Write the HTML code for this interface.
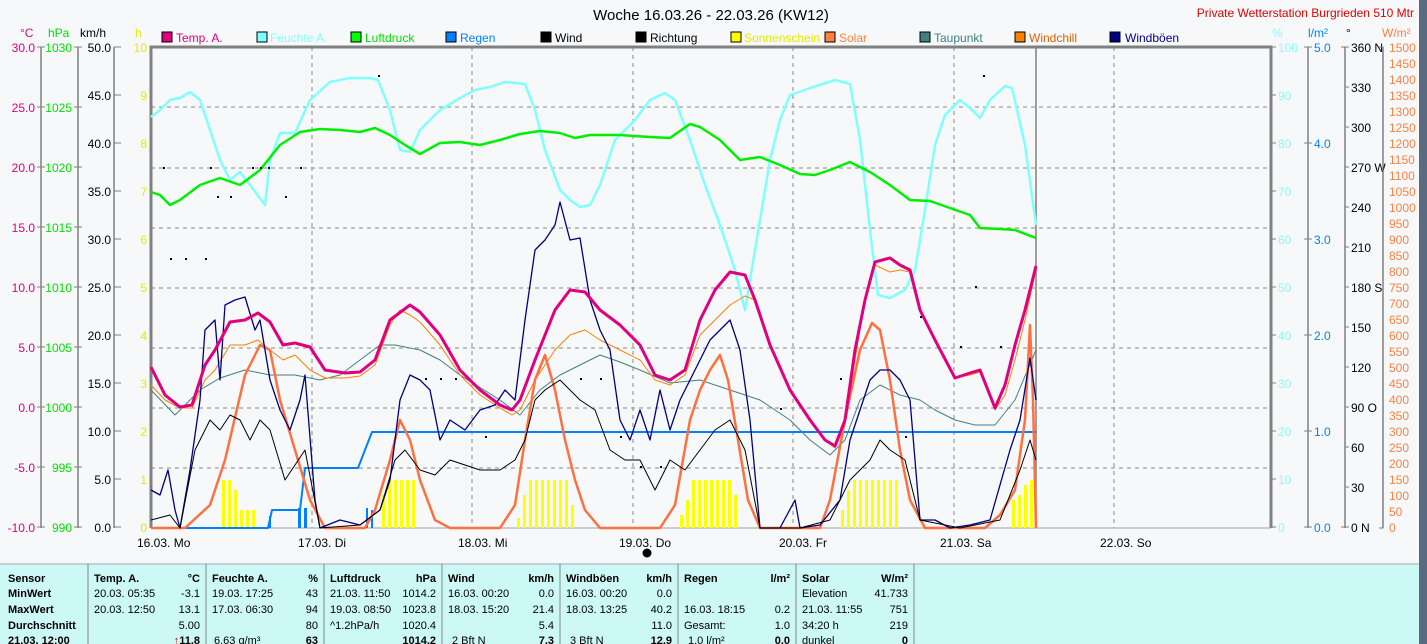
<!DOCTYPE html>
<html><head><meta charset="utf-8"><style>
html,body{margin:0;padding:0;background:#f7f8fa;}
svg{display:block;font-family:"Liberation Sans",sans-serif;}
</style></head><body>
<svg width="1427" height="644" viewBox="0 0 1427 644" xmlns="http://www.w3.org/2000/svg">
<rect width="1427" height="644" fill="#f7f8fa"/>
<rect x="1419" y="0" width="8" height="644" fill="#5a6a80"/>
<text x="711" y="20" font-size="15" text-anchor="middle" fill="#000">Woche 16.03.26 - 22.03.26 (KW12)</text>
<text x="1414" y="17" font-size="12" text-anchor="end" fill="#e00000">Private Wetterstation Burgrieden 510 Mtr</text>

<!-- legend -->
<g font-size="12">
<rect x="162" y="32" width="10" height="10" fill="#e0007f" stroke="#000"/><text x="176" y="42" fill="#e0007f">Temp. A.</text>
<rect x="257" y="32" width="10" height="10" fill="#80ffff" stroke="#000"/><text x="270" y="42" fill="#80ffff">Feuchte A.</text>
<rect x="351" y="32" width="10" height="10" fill="#00ff00" stroke="#000"/><text x="365" y="42" fill="#00e000">Luftdruck</text>
<rect x="446" y="32" width="10" height="10" fill="#0080ff" stroke="#000"/><text x="460" y="42" fill="#0080ff">Regen</text>
<rect x="541" y="32" width="10" height="10" fill="#000" stroke="#000"/><text x="555" y="42" fill="#000">Wind</text>
<rect x="636" y="32" width="10" height="10" fill="#000" stroke="#000"/><text x="650" y="42" fill="#000">Richtung</text>
<rect x="731" y="32" width="10" height="10" fill="#ffff00" stroke="#000"/><text x="744" y="42" fill="#e8e800">Sonnenschein</text>
<rect x="825" y="32" width="10" height="10" fill="#ff8040" stroke="#000"/><text x="839" y="42" fill="#ff8040">Solar</text>
<rect x="920" y="32" width="10" height="10" fill="#408080" stroke="#000"/><text x="934" y="42" fill="#408080">Taupunkt</text>
<rect x="1015" y="32" width="10" height="10" fill="#ff8000" stroke="#000"/><text x="1029" y="42" fill="#e06000">Windchill</text>
<rect x="1110" y="32" width="10" height="10" fill="#000080" stroke="#000"/><text x="1125" y="42" fill="#000080">Windböen</text>
</g>

<!-- axis headers -->
<g font-size="12">
<text x="20" y="37" fill="#e0007f">°C</text>
<text x="48" y="37" fill="#00e000">hPa</text>
<text x="80" y="37" fill="#000">km/h</text>
<text x="135" y="37" fill="#e8e800">h</text>
<text x="1272" y="37" fill="#80ffff">%</text>
<text x="1308" y="37" fill="#0080ff">l/m²</text>
<text x="1346" y="37" fill="#000">°</text>
<text x="1382" y="37" fill="#ff8040">W/m²</text>
</g>

<!-- axis lines -->
<g stroke="#808080" stroke-width="1.5">
<line x1="41" y1="47" x2="41" y2="528"/>
<line x1="78" y1="47" x2="78" y2="528"/>
<line x1="114" y1="47" x2="114" y2="528"/>
<line x1="1308" y1="47" x2="1308" y2="528"/>
<line x1="1345" y1="47" x2="1345" y2="528"/>
<line x1="1383" y1="47" x2="1383" y2="528"/>
</g>
<!-- °C / hPa ticks -->
<g font-size="12" text-anchor="end">
<g fill="#e0007f">
<text x="35" y="52">30.0</text><text x="35" y="112">25.0</text><text x="35" y="172">20.0</text><text x="35" y="232">15.0</text><text x="35" y="292">10.0</text><text x="35" y="352">5.0</text><text x="35" y="412">0.0</text><text x="35" y="472">-5.0</text><text x="35" y="532">-10.0</text>
</g>
<g fill="#00e000">
<text x="72" y="52">1030</text><text x="72" y="112">1025</text><text x="72" y="172">1020</text><text x="72" y="232">1015</text><text x="72" y="292">1010</text><text x="72" y="352">1005</text><text x="72" y="412">1000</text><text x="72" y="472">995</text><text x="72" y="532">990</text>
</g>
<g fill="#000">
<text x="111" y="52">50.0</text><text x="111" y="100">45.0</text><text x="111" y="148">40.0</text><text x="111" y="196">35.0</text><text x="111" y="244">30.0</text><text x="111" y="292">25.0</text><text x="111" y="340">20.0</text><text x="111" y="388">15.0</text><text x="111" y="436">10.0</text><text x="111" y="484">5.0</text><text x="111" y="532">0.0</text>
</g>
<g fill="#e8e800">
<text x="147" y="52">10</text><text x="147" y="100">9</text><text x="147" y="148">8</text><text x="147" y="196">7</text><text x="147" y="244">6</text><text x="147" y="292">5</text><text x="147" y="340">4</text><text x="147" y="388">3</text><text x="147" y="436">2</text><text x="147" y="484">1</text><text x="147" y="532">0</text>
</g>
</g>
<g stroke="#808080" stroke-width="1">
<path d="M37 47h8M37 107h8M37 167h8M37 227h8M37 287h8M37 347h8M37 407h8M37 467h8M37 527h8"/>
<path d="M74 47h8M74 107h8M74 167h8M74 227h8M74 287h8M74 347h8M74 407h8M74 467h8M74 527h8"/>
<path d="M114 47h7M114 95h7M114 143h7M114 191h7M114 239h7M114 287h7M114 335h7M114 383h7M114 431h7M114 479h7M114 527h7"/>
<path d="M1271 47h5M1271 95h5M1271 143h5M1271 191h5M1271 239h5M1271 287h5M1271 335h5M1271 383h5M1271 431h5M1271 479h5M1271 527h5"/>
<path d="M1304 47h8M1304 143h8M1304 239h8M1304 335h8M1304 431h8M1304 527h8"/>
<path d="M1341 47h8M1345 87h4M1345 127h4M1345 167h4M1345 207h4M1345 247h4M1345 287h4M1345 327h4M1345 367h4M1345 407h4M1345 447h4M1345 487h4M1341 527h8"/>
</g>
<g font-size="12">
<g fill="#80ffff">
<text x="1278" y="52">100</text><text x="1278" y="100">90</text><text x="1278" y="148">80</text><text x="1278" y="196">70</text><text x="1278" y="244">60</text><text x="1278" y="292">50</text><text x="1278" y="340">40</text><text x="1278" y="388">30</text><text x="1278" y="436">20</text><text x="1278" y="484">10</text><text x="1278" y="532">0</text>
</g>
<g fill="#0080ff">
<text x="1314" y="52">5.0</text><text x="1314" y="148">4.0</text><text x="1314" y="244">3.0</text><text x="1314" y="340">2.0</text><text x="1314" y="436">1.0</text><text x="1314" y="532">0.0</text>
</g>
<g fill="#000">
<text x="1351" y="52">360 N</text><text x="1351" y="92">330</text><text x="1351" y="132">300</text><text x="1351" y="172">270 W</text><text x="1351" y="212">240</text><text x="1351" y="252">210</text><text x="1351" y="292">180 S</text><text x="1351" y="332">150</text><text x="1351" y="372">120</text><text x="1351" y="412">90 O</text><text x="1351" y="452">60</text><text x="1351" y="492">30</text><text x="1351" y="532">0 N</text>
</g>
<g fill="#ff8040">
<text x="1389" y="52">1500</text><text x="1389" y="68">1450</text><text x="1389" y="84">1400</text><text x="1389" y="100">1350</text><text x="1389" y="116">1300</text><text x="1389" y="132">1250</text><text x="1389" y="148">1200</text><text x="1389" y="164">1150</text><text x="1389" y="180">1100</text><text x="1389" y="196">1050</text><text x="1389" y="212">1000</text><text x="1389" y="228">950</text><text x="1389" y="244">900</text><text x="1389" y="260">850</text><text x="1389" y="276">800</text><text x="1389" y="292">750</text><text x="1389" y="308">700</text><text x="1389" y="324">650</text><text x="1389" y="340">600</text><text x="1389" y="356">550</text><text x="1389" y="372">500</text><text x="1389" y="388">450</text><text x="1389" y="404">400</text><text x="1389" y="420">350</text><text x="1389" y="436">300</text><text x="1389" y="452">250</text><text x="1389" y="468">200</text><text x="1389" y="484">150</text><text x="1389" y="500">100</text><text x="1389" y="516">50</text><text x="1389" y="532">0</text>
</g>
</g>
<path d="M1379 47h4v481h-4" stroke="#808080" fill="none"/>

<!-- plot frame -->
<g stroke="#888" stroke-width="1" stroke-dasharray="4,4">
<path d="M151 107H1271M151 168H1271M151 228H1271M151 288H1271M151 348H1271M151 408H1271M151 468H1271"/>
<path d="M312 47V528M472 47V528M633 47V528M793 47V528M954 47V528M1114 47V528"/>
</g>
<path d="M151 528V47H1271V528" stroke="#808080" stroke-width="3" fill="none"/>
<line x1="151" y1="528" x2="1271" y2="528" stroke="#a0a0a0"/>
<line x1="1036" y1="47" x2="1036" y2="528" stroke="#808080" stroke-width="1.5"/>

<!-- sunshine bars -->
<g fill="#ffff00">
<rect x="222" y="480" width="3" height="48"/><rect x="228" y="480" width="3" height="48"/><rect x="234" y="490" width="3" height="38"/><rect x="240" y="510" width="3" height="18"/><rect x="246" y="510" width="3" height="18"/><rect x="252" y="510" width="3" height="18"/>
<rect x="382" y="495" width="3" height="33"/><rect x="388" y="480" width="3" height="48"/><rect x="394" y="480" width="3" height="48"/><rect x="400" y="480" width="3" height="48"/><rect x="406" y="480" width="3" height="48"/><rect x="412" y="480" width="3" height="48"/>
<rect x="517" y="518" width="3" height="10"/><rect x="523" y="495" width="3" height="33"/><rect x="529" y="480" width="3" height="48"/><rect x="535" y="480" width="3" height="48"/><rect x="541" y="480" width="3" height="48"/><rect x="547" y="480" width="3" height="48"/><rect x="553" y="480" width="3" height="48"/><rect x="559" y="480" width="3" height="48"/><rect x="565" y="480" width="3" height="48"/><rect x="571" y="505" width="3" height="23"/>
<rect x="680" y="515" width="3" height="13"/><rect x="686" y="500" width="3" height="28"/><rect x="692" y="480" width="3" height="48"/><rect x="698" y="480" width="3" height="48"/><rect x="704" y="480" width="3" height="48"/><rect x="710" y="480" width="3" height="48"/><rect x="716" y="480" width="3" height="48"/><rect x="722" y="480" width="3" height="48"/><rect x="728" y="480" width="3" height="48"/><rect x="734" y="495" width="3" height="33"/>
<rect x="841" y="510" width="3" height="18"/><rect x="847" y="490" width="3" height="38"/><rect x="853" y="480" width="3" height="48"/><rect x="859" y="480" width="3" height="48"/><rect x="865" y="480" width="3" height="48"/><rect x="871" y="480" width="3" height="48"/><rect x="877" y="480" width="3" height="48"/><rect x="883" y="480" width="3" height="48"/><rect x="889" y="480" width="3" height="48"/><rect x="895" y="480" width="3" height="48"/>
<rect x="1012" y="500" width="3" height="28"/><rect x="1018" y="495" width="3" height="33"/><rect x="1024" y="485" width="3" height="43"/><rect x="1030" y="480" width="3" height="48"/>
</g>
<!-- rain bars -->
<g fill="#0080ff">
<rect x="269" y="516" width="2" height="12"/><rect x="298" y="508" width="3" height="20"/><rect x="304" y="508" width="3" height="20"/><rect x="366" y="508" width="2" height="20"/><rect x="371" y="510" width="2" height="18"/>
</g>

<g fill="none" stroke-linejoin="round">
<!-- humidity -->
<polyline stroke="#80ffff" stroke-width="2.5" points="151,117 160,110 170,100 180,98 190,92 200,100 210,130 220,160 230,180 240,172 250,185 265,205 270,160 280,133 295,133 310,100 330,82 350,78 370,78 378,80 390,110 400,150 410,152 420,130 440,110 460,98 475,90 490,87 505,82 525,84 535,110 545,150 560,190 570,200 580,207 590,205 600,185 615,140 635,120 650,100 665,93 675,100 690,140 705,185 720,225 735,270 745,310 750,280 760,220 770,160 780,120 790,95 810,88 835,80 850,84 860,140 870,230 878,295 890,298 905,290 915,270 925,210 935,145 945,115 960,100 970,108 980,118 990,100 1005,86 1012,88 1025,145 1036,225"/>
<!-- pressure -->
<polyline stroke="#00ee00" stroke-width="2.5" points="151,192 160,195 170,205 180,200 200,185 220,178 240,185 260,170 280,145 300,132 320,129 340,130 360,132 375,128 390,135 405,145 420,154 440,143 460,142 480,145 500,140 520,134 540,131 560,133 575,138 590,135 620,135 650,137 670,138 690,124 700,127 720,140 740,160 760,157 780,165 800,174 815,175 830,170 850,162 870,172 890,185 910,200 930,201 950,208 970,215 980,228 1000,229 1015,230 1036,238"/>
<!-- rain line -->
<polyline stroke="#0080ff" stroke-width="2" points="151,528 268,528 272,510 300,510 305,468 358,468 372,432 1036,432"/>
<!-- dew point -->
<polyline stroke="#408080" stroke-width="1" points="151,390 175,415 200,390 220,378 245,370 270,375 295,375 320,380 340,375 360,360 380,345 395,345 420,350 440,360 460,375 500,400 520,415 540,390 560,375 580,365 600,355 620,362 640,370 670,383 700,380 730,390 760,400 790,420 810,440 830,455 845,440 860,400 880,385 900,395 920,400 935,410 955,420 975,425 995,425 1015,400 1036,350"/>
<!-- windchill -->
<polyline stroke="#ff8000" stroke-width="1" points="151,385 165,400 180,408 192,408 205,380 215,370 230,345 245,345 258,340 270,350 283,360 295,355 310,370 325,378 345,378 360,376 375,365 390,325 400,310 410,315 420,322 440,345 460,375 480,395 500,408 512,415 520,410 535,380 555,350 570,335 585,330 600,340 620,350 640,360 655,380 670,385 685,375 700,335 715,320 730,305 745,296 755,300 770,345 790,390 810,420 825,440 835,448 845,425 855,360 865,300 875,265 890,272 900,270 910,272 920,310 935,340 955,378 970,375 980,372 995,410 1005,395 1015,360 1025,320 1036,270"/>
<!-- solar -->
<polyline stroke="#ff7040" stroke-width="2.5" points="151,528 185,528 210,505 225,460 245,375 260,345 270,350 280,400 295,450 310,500 325,528 365,528 375,510 390,460 400,420 410,440 420,480 435,520 450,528 500,528 515,505 525,440 535,380 545,355 555,390 565,440 575,480 585,510 600,528 660,528 675,505 690,420 700,390 710,370 720,355 728,380 738,440 748,500 760,528 820,528 830,500 845,420 860,350 872,323 880,330 890,380 900,450 910,500 925,528 985,528 1000,515 1015,490 1025,420 1030,325 1033,400 1036,528"/>
<!-- gusts -->
<polyline stroke="#000080" stroke-width="1.3" points="151,490 160,495 168,470 175,510 180,528 190,470 200,400 205,330 215,320 220,380 225,305 235,300 245,297 255,330 260,320 270,380 280,410 290,430 300,400 305,375 315,500 320,528 340,520 360,525 380,510 390,480 395,440 400,400 410,375 420,380 430,390 440,440 450,420 465,430 480,410 495,405 505,390 515,400 525,320 535,250 545,240 555,225 560,202 570,240 580,238 590,300 600,330 610,350 620,420 630,440 640,410 650,440 660,390 670,430 680,400 690,380 700,360 710,340 720,330 730,320 740,350 750,420 760,528 780,528 795,500 800,528 820,525 840,500 850,440 860,410 870,380 880,370 890,370 900,380 910,400 920,520 935,520 950,528 970,525 990,520 1010,450 1020,420 1030,358 1036,400"/>
<!-- wind -->
<polyline stroke="#000" stroke-width="1" points="151,520 170,515 180,528 195,450 210,420 220,430 230,415 240,420 250,440 260,420 270,430 285,480 295,465 305,450 320,528 360,525 380,510 395,460 405,450 420,470 435,475 450,460 480,470 500,470 515,460 525,440 535,400 545,390 560,380 570,390 580,400 595,410 610,450 625,460 640,460 655,490 670,460 685,470 700,450 715,430 730,420 745,450 760,528 800,528 830,520 850,480 870,460 880,440 890,450 905,460 920,520 960,528 1000,520 1020,470 1030,440 1036,460"/>
<!-- temperature -->
<polyline stroke="#e0007f" stroke-width="3" points="151,367 165,395 180,407 192,405 205,365 215,350 230,322 245,320 258,313 270,322 283,345 295,343 310,347 325,370 345,373 360,372 375,360 390,320 410,305 420,312 440,335 460,370 480,390 500,405 512,410 520,400 535,360 555,310 570,290 585,292 600,310 620,325 640,345 655,375 670,380 685,370 700,320 715,290 730,272 745,275 755,300 770,345 790,390 810,420 825,440 835,446 845,420 855,350 865,300 875,262 890,258 900,265 910,270 920,310 935,340 955,378 970,373 980,370 995,408 1005,385 1015,345 1025,310 1036,266"/>
</g>
<!-- direction dots -->
<g fill="#000">
<rect x="378" y="75" width="2" height="2"/><rect x="983" y="75" width="2" height="2"/><rect x="163" y="167" width="2" height="2"/><rect x="210" y="167" width="2" height="2"/><rect x="252" y="167" width="2" height="2"/><rect x="260" y="167" width="2" height="2"/><rect x="268" y="167" width="2" height="2"/><rect x="300" y="167" width="2" height="2"/><rect x="217" y="196" width="2" height="2"/><rect x="230" y="196" width="2" height="2"/><rect x="285" y="196" width="2" height="2"/><rect x="170" y="258" width="2" height="2"/><rect x="185" y="258" width="2" height="2"/><rect x="205" y="258" width="2" height="2"/><rect x="425" y="378" width="2" height="2"/><rect x="440" y="378" width="2" height="2"/><rect x="455" y="378" width="2" height="2"/><rect x="580" y="378" width="2" height="2"/><rect x="600" y="378" width="2" height="2"/><rect x="485" y="436" width="2" height="2"/><rect x="620" y="436" width="2" height="2"/><rect x="640" y="466" width="2" height="2"/><rect x="660" y="466" width="2" height="2"/><rect x="840" y="378" width="2" height="2"/><rect x="920" y="316" width="2" height="2"/><rect x="960" y="346" width="2" height="2"/><rect x="1000" y="346" width="2" height="2"/><rect x="975" y="286" width="2" height="2"/><rect x="905" y="436" width="2" height="2"/><rect x="780" y="408" width="2" height="2"/>
</g>

<!-- day labels -->
<g font-size="12" fill="#000">
<text x="137" y="547">16.03.  Mo</text><text x="298" y="547">17.03.  Di</text><text x="458" y="547">18.03.  Mi</text><text x="619" y="547">19.03.  Do</text><text x="779" y="547">20.03.  Fr</text><text x="940" y="547">21.03.  Sa</text><text x="1100" y="547">22.03.  So</text>
</g>
<circle cx="647" cy="553" r="4.5" fill="#000"/>

<!-- table -->
<rect x="0" y="564" width="1419" height="80" fill="#ccf8f6"/>
<line x1="0" y1="564" x2="1419" y2="564" stroke="#9ab" />
<g stroke="#888" stroke-width="1">
<path d="M88 564V644M206 564V644M324 564V644M442 564V644M560 564V644M678 564V644M796 564V644M914 564V644"/>
</g>
<g font-size="11" fill="#000">
<g font-weight="bold">
<text x="8" y="582">Sensor</text><text x="8" y="597">MinWert</text><text x="8" y="613">MaxWert</text><text x="8" y="629">Durchschnitt</text><text x="8" y="644">21.03. 12:00</text>
<text x="94" y="582">Temp. A.</text><text x="200" y="582" text-anchor="end">°C</text>
<text x="212" y="582">Feuchte A.</text><text x="318" y="582" text-anchor="end">%</text>
<text x="330" y="582">Luftdruck</text><text x="436" y="582" text-anchor="end">hPa</text>
<text x="448" y="582">Wind</text><text x="554" y="582" text-anchor="end">km/h</text>
<text x="566" y="582">Windböen</text><text x="672" y="582" text-anchor="end">km/h</text>
<text x="684" y="582">Regen</text><text x="790" y="582" text-anchor="end">l/m²</text>
<text x="802" y="582">Solar</text><text x="908" y="582" text-anchor="end">W/m²</text>
</g>
<text x="94" y="597">20.03.  05:35</text><text x="200" y="597" text-anchor="end">-3.1</text>
<text x="94" y="613">20.03.  12:50</text><text x="200" y="613" text-anchor="end">13.1</text>
<text x="200" y="629" text-anchor="end">5.00</text>
<text x="200" y="644" text-anchor="end" font-weight="bold"><tspan fill="#e00000">↑</tspan>11.8</text>
<text x="212" y="597">19.03.  17:25</text><text x="318" y="597" text-anchor="end">43</text>
<text x="212" y="613">17.03.  06:30</text><text x="318" y="613" text-anchor="end">94</text>
<text x="318" y="629" text-anchor="end">80</text>
<text x="214" y="644">6.63 g/m³</text><text x="318" y="644" text-anchor="end" font-weight="bold">63</text>
<text x="330" y="597">21.03.  11:50</text><text x="436" y="597" text-anchor="end">1014.2</text>
<text x="330" y="613">19.03.  08:50</text><text x="436" y="613" text-anchor="end">1023.8</text>
<text x="330" y="629">^1.2hPa/h</text><text x="436" y="629" text-anchor="end">1020.4</text>
<text x="436" y="644" text-anchor="end" font-weight="bold">1014.2</text>
<text x="448" y="597">16.03.  00:20</text><text x="554" y="597" text-anchor="end">0.0</text>
<text x="448" y="613">18.03.  15:20</text><text x="554" y="613" text-anchor="end">21.4</text>
<text x="554" y="629" text-anchor="end">5.4</text>
<text x="452" y="644">2 Bft N</text><text x="554" y="644" text-anchor="end" font-weight="bold">7.3</text>
<text x="566" y="597">16.03.  00:20</text><text x="672" y="597" text-anchor="end">0.0</text>
<text x="566" y="613">18.03.  13:25</text><text x="672" y="613" text-anchor="end">40.2</text>
<text x="672" y="629" text-anchor="end">11.0</text>
<text x="570" y="644">3 Bft N</text><text x="672" y="644" text-anchor="end" font-weight="bold">12.9</text>
<text x="684" y="613">16.03.  18:15</text><text x="790" y="613" text-anchor="end">0.2</text>
<text x="684" y="629">Gesamt:</text><text x="790" y="629" text-anchor="end">1.0</text>
<text x="688" y="644">1.0 l/m²</text><text x="790" y="644" text-anchor="end" font-weight="bold">0.0</text>
<text x="802" y="597">Elevation</text><text x="908" y="597" text-anchor="end">41.733</text>
<text x="802" y="613">21.03.  11:55</text><text x="908" y="613" text-anchor="end">751</text>
<text x="802" y="629">34:20 h</text><text x="908" y="629" text-anchor="end">219</text>
<text x="802" y="644">dunkel</text><text x="908" y="644" text-anchor="end" font-weight="bold">0</text>
</g>
</svg>
</body></html>
